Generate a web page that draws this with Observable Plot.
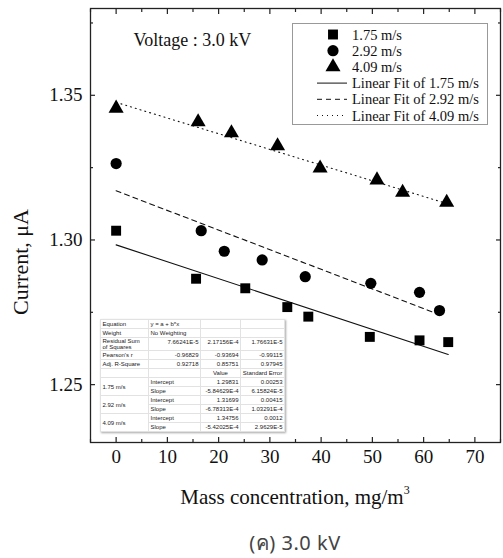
<!DOCTYPE html>
<html><head><meta charset="utf-8">
<script src="https://cdn.jsdelivr.net/npm/d3@7"></script>
<script src="https://cdn.jsdelivr.net/npm/@observablehq/plot@0.6"></script>
<style>
body{margin:0;background:#fff;}
#wrap{position:relative;width:503px;height:558px;font-family:"Liberation Serif","Times New Roman",serif;overflow:hidden;}
#wrap svg{display:block;}
.abs{position:absolute;}
#xtitle{left:90px;width:410px;top:484px;text-align:center;font-size:21px;line-height:26px;color:#111;}
#xtitle sup{font-size:12px;vertical-align:10px;line-height:0;}
#ytitle{left:21px;top:262px;transform:translate(-50%,-50%) rotate(-90deg);font-size:22px;white-space:nowrap;color:#111;}
#caption{left:90px;width:410px;top:524px;text-align:center;font-family:"Noto Sans","DejaVu Sans",sans-serif;font-size:20px;line-height:38px;color:#444;letter-spacing:0.5px;}
#stats{position:absolute;left:100px;top:319px;border-collapse:collapse;table-layout:fixed;font-family:"Liberation Sans",Arial,sans-serif;font-size:6px;color:#222;background:#fff;box-shadow:1px 1px 2px rgba(0,0,0,0.35);border:1px solid #bbb;}
#stats td{border:0.5px solid #e2e2e2;padding:0 1.5px;height:8px;line-height:8px;white-space:nowrap;overflow:hidden;}
#stats td.wrap{white-space:normal;line-height:6px;height:12px;}
#stats td.r{text-align:right;}
#stats td.c{text-align:center;}
</style></head>
<body><div id="wrap"></div>
<script>
// ---- data ----
const speeds = ["1.75 m/s", "2.92 m/s", "4.09 m/s"];
const conc175 = [0, 15.6, 25.2, 33.4, 37.5, 49.5, 59.2, 64.8];
const curr175 = [1.3032, 1.2866, 1.2833, 1.2768, 1.2735, 1.2665, 1.2653, 1.2647];
const conc292 = [0, 16.6, 21.1, 28.5, 36.9, 49.7, 59.2, 63.1];
const curr292 = [1.3264, 1.3032, 1.2961, 1.2931, 1.2873, 1.2850, 1.2819, 1.2756];
const conc409 = [0, 16.0, 22.5, 31.5, 39.8, 50.9, 55.9, 64.5];
const curr409 = [1.3455, 1.3408, 1.3370, 1.3325, 1.3248, 1.3207, 1.3164, 1.3130];

// fit table values
const fitIntercept = [1.29831, 1.31699, 1.34756];
const fitSlope = [-5.84629E-4, -6.78313E-4, -5.42025E-4];
const interceptErr = ["0.00253", "0.00415", "0.0012"];
const slopeErr = ["6.15824E-5", "1.03291E-4", "2.9629E-5"];
const rssText = ["7.66241E-5", "2.17156E-4", "1.76631E-5"];
const pearsonText = ["-0.96829", "-0.93694", "-0.99115"];
const adjR2Text = ["0.92718", "0.85751", "0.97945"];
const interceptText = ["1.29831", "1.31699", "1.34756"];
const slopeText = ["-5.84629E-4", "-6.78313E-4", "-5.42025E-4"];

const xMajor = [0, 10, 20, 30, 40, 50, 60, 70];
const xMinor = [-5, 5, 15, 25, 35, 45, 55, 65, 75];
const yMajor = [1.25, 1.30, 1.35];
const yMinor = [1.275, 1.325, 1.375];

const titleText = "Voltage : 3.0 kV";
const xLabel = "Mass concentration, mg/m";
const yLabel = "Current, μA";
const captionText = "(ค) 3.0 kV";

// ---- build ----
const concs = [conc175, conc292, conc409];
const currs = [curr175, curr292, curr409];
const symbols = ["square", "circle", "triangle"];
const dashes = [null, "5,4", "1,4"];

const points = [];
speeds.forEach((s, i) => concs[i].forEach((c, j) => points.push({series: s, x: c, y: currs[i][j]})));
const fits = [];
speeds.forEach((s, i) => {
  const xe = d3.max(concs[i]);
  fits.push({series: s, pts: [{x: 0, y: fitIntercept[i]}, {x: xe, y: fitIntercept[i] + fitSlope[i] * xe}]});
});

const H = 520;
const axisCommon = {stroke: "#222", strokeWidth: 1.2, label: null};
const chart = Plot.plot({
  width: 503, height: H,
  marginLeft: 90, marginRight: 3, marginTop: 8, marginBottom: H - 442,
  x: {domain: [-5, 75]},
  y: {domain: [1.23, 1.38]},
  style: {fontFamily: "'Liberation Serif', 'Times New Roman', serif", background: "white", color: "#111"},
  marks: [
    Plot.axisY(yMajor, {...axisCommon, anchor: "left", tickSize: -5, tickPadding: 13, fontSize: 19, tickFormat: d3.format(".2f"), fill: "#111"}),
    Plot.axisY(yMinor, {...axisCommon, anchor: "left", tickSize: -3, fill: "none"}),
    Plot.axisY(yMajor, {...axisCommon, anchor: "right", tickSize: -5, fill: "none"}),
    Plot.axisY(yMinor, {...axisCommon, anchor: "right", tickSize: -3, fill: "none"}),
    Plot.axisX(xMajor, {...axisCommon, anchor: "bottom", tickSize: -5, tickPadding: 12, fontSize: 19, fill: "#111"}),
    Plot.axisX(xMinor, {...axisCommon, anchor: "bottom", tickSize: -3, fill: "none"}),
    Plot.axisX(xMajor, {...axisCommon, anchor: "top", tickSize: -5, fill: "none"}),
    Plot.axisX(xMinor, {...axisCommon, anchor: "top", tickSize: -3, fill: "none"}),
    ...fits.map((f, i) => Plot.line(f.pts, {x: "x", y: "y", stroke: "#111", strokeWidth: 1.1, strokeDasharray: dashes[i]})),
    ...symbols.map((sym, i) => Plot.dot(points.filter(p => p.series === speeds[i]), {x: "x", y: "y", symbol: sym, r: 5.6, fill: "black", stroke: "none"})),
    Plot.text([titleText], {frameAnchor: "top-left", dx: 43, dy: 25, textAnchor: "start", fontSize: 18, fill: "#111"}),
    Plot.frame({stroke: "#222", strokeWidth: 1.3})
  ]
});

const wrap = document.getElementById("wrap");
wrap.appendChild(chart);

// axis titles & caption
const xt = document.createElement("div"); xt.className = "abs"; xt.id = "xtitle";
xt.innerHTML = xLabel + "<sup>3</sup>"; wrap.appendChild(xt);
const yt = document.createElement("div"); yt.className = "abs"; yt.id = "ytitle";
yt.textContent = yLabel; wrap.appendChild(yt);
const cap = document.createElement("div"); cap.className = "abs"; cap.id = "caption";
cap.textContent = captionText; wrap.appendChild(cap);

// legend
const lg = d3.create("svg").attr("width", 196).attr("height", 102)
  .style("position", "absolute").style("left", "292px").style("top", "23px");
lg.append("rect").attr("x", 0.5).attr("y", 0.5).attr("width", 195).attr("height", 101)
  .attr("fill", "white").attr("stroke", "#999").attr("stroke-width", 1);
const rowY = i => 11.5 + i * 16.2;
const d3sym = {square: d3.symbolSquare, circle: d3.symbolCircle, triangle: d3.symbolTriangle};
const lgFont = 14.5;
speeds.forEach((s, i) => {
  lg.append("path").attr("transform", `translate(41,${rowY(i)})`)
    .attr("d", d3.symbol(d3sym[symbols[i]], Math.PI * 5.6 * 5.6)()).attr("fill", "black");
  lg.append("text").attr("x", 60).attr("y", rowY(i)).attr("dy", "0.35em")
    .attr("font-family", "'Liberation Serif', serif").attr("font-size", lgFont).attr("fill", "#111").text(s);
});
speeds.forEach((s, i) => {
  const yy = rowY(i + 3);
  lg.append("line").attr("x1", 25).attr("x2", 55).attr("y1", yy).attr("y2", yy)
    .attr("stroke", "#111").attr("stroke-width", 1).attr("stroke-dasharray", dashes[i]);
  lg.append("text").attr("x", 60).attr("y", yy).attr("dy", "0.35em")
    .attr("font-family", "'Liberation Serif', serif").attr("font-size", lgFont).attr("fill", "#111").text("Linear Fit of " + s);
});
wrap.appendChild(lg.node());

// stats table
const rows = [];
rows.push(`<tr><td>Equation</td><td>y = a + b*x</td><td></td><td></td></tr>`);
rows.push(`<tr><td>Weight</td><td>No Weighting</td><td></td><td></td></tr>`);
rows.push(`<tr><td class="wrap">Residual Sum of Squares</td><td class="r" style="vertical-align:top">${rssText[0]}</td><td class="r" style="vertical-align:top">${rssText[1]}</td><td class="r" style="vertical-align:top">${rssText[2]}</td></tr>`);
rows.push(`<tr><td>Pearson's r</td><td class="r">${pearsonText[0]}</td><td class="r">${pearsonText[1]}</td><td class="r">${pearsonText[2]}</td></tr>`);
rows.push(`<tr><td>Adj. R-Square</td><td class="r">${adjR2Text[0]}</td><td class="r">${adjR2Text[1]}</td><td class="r">${adjR2Text[2]}</td></tr>`);
rows.push(`<tr><td></td><td></td><td class="c">Value</td><td class="c">Standard Error</td></tr>`);
speeds.forEach((s, i) => {
  rows.push(`<tr><td rowspan="2">${s}</td><td>Intercept</td><td class="r">${interceptText[i]}</td><td class="r">${interceptErr[i]}</td></tr>`);
  rows.push(`<tr><td>Slope</td><td class="r">${slopeText[i]}</td><td class="r">${slopeErr[i]}</td></tr>`);
});
const tbl = document.createElement("table"); tbl.id = "stats";
tbl.innerHTML = `<colgroup><col style="width:48px"><col style="width:52px"><col style="width:40px"><col style="width:44px"></colgroup>` + rows.join("");
wrap.appendChild(tbl);
</script>
</body></html>
